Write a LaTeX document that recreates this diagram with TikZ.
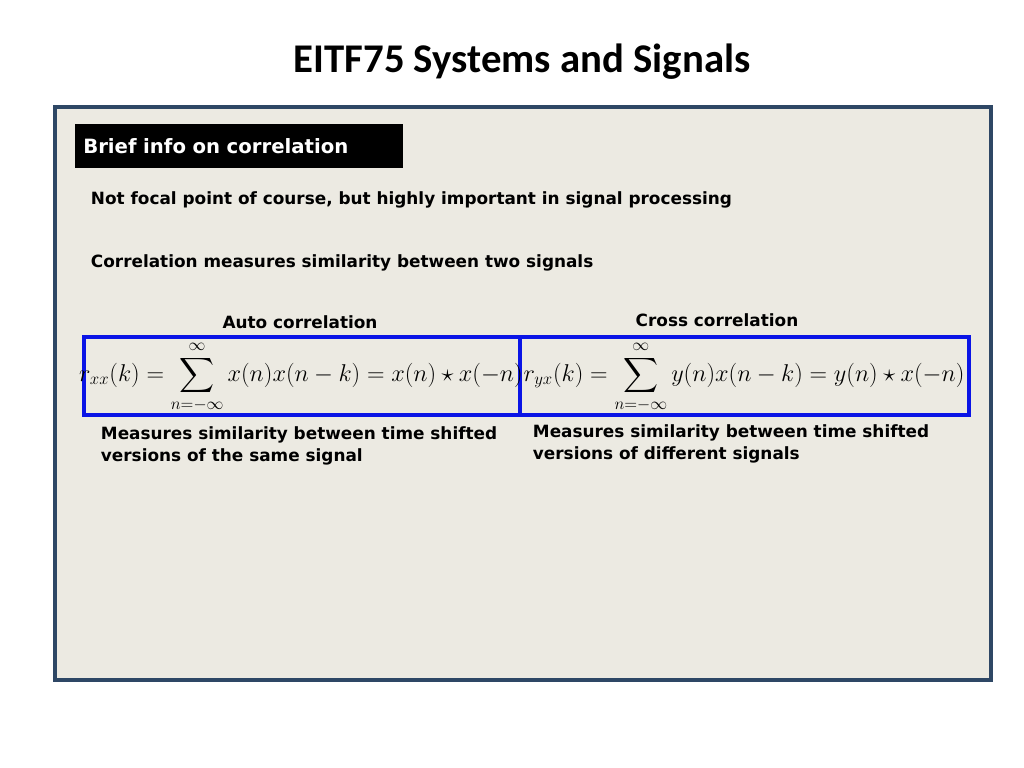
\documentclass[tikz,border=0pt]{standalone}
\usepackage{fontspec}
\usepackage{amsmath}
\setmainfont{DejaVu Sans}
\newfontfamily\titlefont{Carlito}
\usetikzlibrary{positioning}
\definecolor{panelbg}{HTML}{ECEAE2}
\definecolor{panelrim}{HTML}{2E4765}
\definecolor{eqblue}{HTML}{0A14E6}
\tikzset{
  bodytext/.style={anchor=west, font=\fontsize{12}{15.5}\selectfont\bfseries},
  eqbox/.style={draw=eqblue, line width=2.2pt, minimum height=2cm, inner sep=0pt}
}
\begin{document}
\begin{tikzpicture}[x=0.025cm, y=-0.025cm]
  \useasboundingbox (0,0) rectangle (1024,768);

  \node[font=\titlefont\fontsize{29}{33}\selectfont\bfseries] (title) at (522,62) {EITF75 Systems and Signals};

  \draw[panelrim, fill=panelbg, line width=3pt] (55,107) rectangle (991,680);

  \node[fill=black, text=white, anchor=west, minimum width=8.2cm, minimum height=1.08cm,
    font=\fontsize{14}{16}\selectfont\bfseries, inner sep=4pt, align=left, text width=7.8cm] (brief) at (75,146) {Brief info on correlation};

  \node[bodytext] (focal) at (86,200) {Not focal point of course, but highly important in signal processing};
  \node[bodytext] (meas) at (86,263) {Correlation measures similarity between two signals};

  \node[bodytext, anchor=center] (autolab) at (300,322) {Auto correlation};
  \node[bodytext, anchor=center] (crosslab) at (717,320) {Cross correlation};

  \draw[eqblue, line width=2.2pt] (84,337) rectangle (520,415);
  \draw[eqblue, line width=2.2pt] (520,337) rectangle (969,415);

  \node (autoeq) at (301,377) {\fontsize{17}{20}\selectfont
    $\displaystyle r_{xx}(k)=\sum_{n=-\infty}^{\infty} x(n)x(n-k)=x(n)\star x(-n)$};
  \node (crosseq) at (744,377) {\fontsize{17}{20}\selectfont
    $\displaystyle r_{yx}(k)=\sum_{n=-\infty}^{\infty} y(n)x(n-k)=y(n)\star x(-n)$};

  \node[bodytext, align=left, anchor=north west] (autotxt) at (96,422)
    {Measures similarity between time shifted\\versions of the same signal};
  \node[bodytext, align=left, anchor=north west] (crosstxt) at (528,420)
    {Measures similarity between time shifted\\versions of different signals};
\end{tikzpicture}
\end{document}
